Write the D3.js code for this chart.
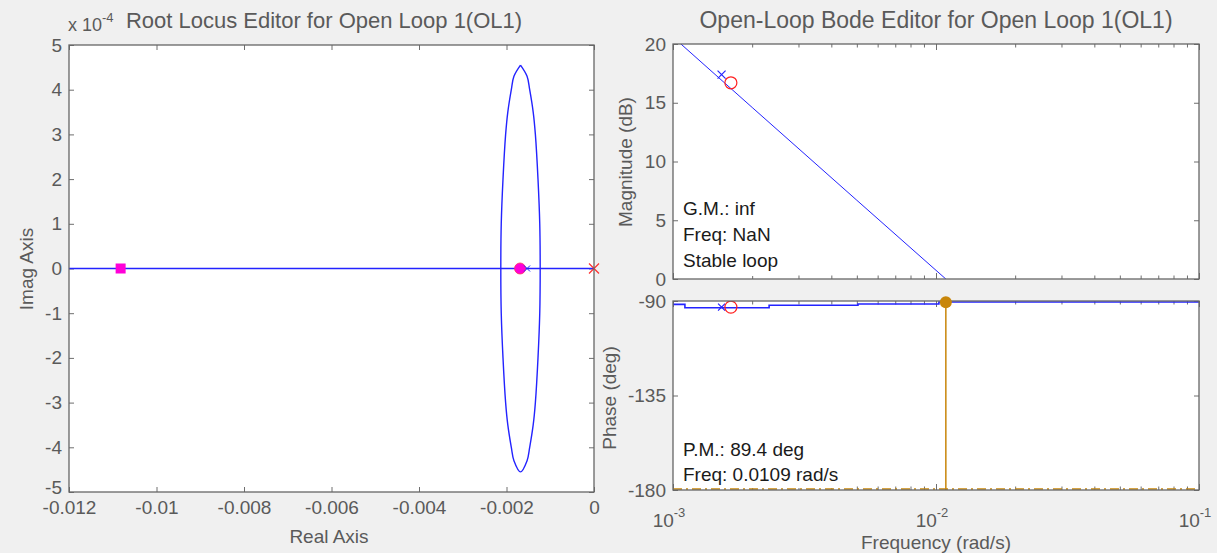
<!DOCTYPE html>
<html>
<head>
<meta charset="utf-8">
<script src="https://cdn.jsdelivr.net/npm/d3@7"></script>
<style>
  body { margin: 0; background: #f0f0f0; }
  svg { display: block; font-family: "Liberation Sans", Arial, sans-serif; }
  .tick text { fill: #5a5a5a; font-size: 19px; }
  .tick line { stroke: #6e6e6e; }
  .domain { display: none; }
</style>
</head>
<body>
<div id="chart"></div>
<script>
// ---- root locus data (imag values in units of 1e-4) ----
const rlXTicks = [-0.012, -0.01, -0.008, -0.006, -0.004, -0.002, 0];
const rlXLabels = ["-0.012", "-0.01", "-0.008", "-0.006", "-0.004", "-0.002", "0"];
const rlYTicks = [-5, -4, -3, -2, -1, 0, 1, 2, 3, 4, 5];
const realAxisLocus = [-0.012, 0];
const locusReal = [-0.00168, -0.00153, -0.00147, -0.00139, -0.00134, -0.00128, -0.00124, -0.00123,
                   -0.00124, -0.00128, -0.00134, -0.00139, -0.00147, -0.00153, -0.00168,
                   -0.00183, -0.00189, -0.00197, -0.00202, -0.00208, -0.00212, -0.00213,
                   -0.00212, -0.00208, -0.00202, -0.00197, -0.00189, -0.00183, -0.00168];
const locusImag = [4.55, 4.3, 4.0, 3.5, 3.0, 2.0, 1.0, 0,
                   -1.0, -2.0, -3.0, -3.5, -4.0, -4.3, -4.55,
                   -4.3, -4.0, -3.5, -3.0, -2.0, -1.0, 0,
                   1.0, 2.0, 3.0, 3.5, 4.0, 4.3, 4.55];
const olPoleReal = [0];
const olZeroSquareReal = [-0.01082];
const clPoleReal = [-0.00169];
const blueCrossReal = [-0.00153];

// ---- bode data ----
const freqTicks = [1e-3, 1e-2, 1e-1];
const freqTickExp = ["-3", "-2", "-1"];
const magTicks = [0, 5, 10, 15, 20];
const phaseTicks = [-180, -135, -90];
const magFreq = [0.001, 0.002, 0.005, 0.0109, 0.02, 0.1];
const magDb = [20.6, 14.6, 6.7, 0, -5.3, -19.2];
const phaseFreq = [0.001, 0.00111, 0.00111, 0.00232, 0.00232, 0.00505, 0.00505, 0.01026, 0.01026, 0.1];
const phaseDeg = [-91.6, -91.6, -93.2, -93.2, -92.0, -92.0, -91.4, -91.4, -90.5, -90.5];
const magCross = {f: 0.00153, v: 17.4};
const magCircle = {f: 0.00166, v: 16.7};
const phaseCross = {f: 0.00153, v: -92.9};
const phaseCircle = {f: 0.00166, v: -92.9};
const pmFreq = 0.0109, pmPhase = -90.6;
const gmText = ["G.M.: inf", "Freq: NaN", "Stable loop"];
const pmText = ["P.M.: 89.4 deg", "Freq: 0.0109 rad/s"];

const W = 1217, H = 553;
const grey = "#666666", txt = "#5a5a5a", orange = "#c8860a", blue = "#2323ff";

let svg = d3.select("#chart").append("svg")
    .attr("width", W).attr("height", H);

svg.append("rect").attr("width", W).attr("height", H).attr("fill", "#f0f0f0");
let defs = svg.append("defs");

// ================= Root locus =================
let rl = {left: 69, right: 594, top: 45, bottom: 492};
let x = d3.scaleLinear().domain([-0.012, 0]).range([rl.left, rl.right]);
let y = d3.scaleLinear().domain([-5, 5]).range([rl.bottom, rl.top]);

svg.append("rect")
    .attr("x", rl.left).attr("y", rl.top)
    .attr("width", rl.right - rl.left).attr("height", rl.bottom - rl.top)
    .attr("fill", "white");

defs.append("clipPath").attr("id", "rlclip")
    .append("rect")
    .attr("x", rl.left).attr("y", rl.top)
    .attr("width", rl.right - rl.left).attr("height", rl.bottom - rl.top);

svg.append("g").attr("transform", "translate(0," + rl.bottom + ")")
    .call(d3.axisBottom(x).tickValues(rlXTicks).tickSize(-5).tickPadding(9)
        .tickFormat((d, i) => rlXLabels[i]));
svg.append("g").attr("transform", "translate(0," + rl.top + ")")
    .call(d3.axisTop(x).tickValues(rlXTicks).tickSize(-5).tickFormat(""));
let yAx = svg.append("g").attr("transform", "translate(" + rl.left + ",0)")
    .call(d3.axisLeft(y).tickValues(rlYTicks).tickSize(-5).tickPadding(7)
        .tickFormat(d => String(d)));
// lift the bottom label a little, like the original
yAx.selectAll(".tick text").filter(d => d === -5).attr("dy", "0.1em");
svg.append("g").attr("transform", "translate(" + rl.right + ",0)")
    .call(d3.axisRight(y).tickValues(rlYTicks).tickSize(-5).tickFormat(""));

let rlg = svg.append("g").attr("clip-path", "url(#rlclip)");

// locus on real axis
rlg.append("line")
    .attr("x1", x(realAxisLocus[0])).attr("x2", x(realAxisLocus[1]))
    .attr("y1", y(0)).attr("y2", y(0))
    .attr("stroke", blue).attr("stroke-width", 1.4);

// complex branch
rlg.append("path")
    .datum(d3.zip(locusReal, locusImag))
    .attr("d", d3.line().curve(d3.curveCatmullRom).x(d => x(d[0])).y(d => y(d[1])))
    .attr("fill", "none").attr("stroke", blue).attr("stroke-width", 1.4);

// magenta square
rlg.selectAll(".sq").data(olZeroSquareReal).enter().append("rect")
    .attr("x", d => x(d) - 5).attr("y", y(0) - 5)
    .attr("width", 10).attr("height", 10).attr("fill", "#ff00d8");

// closed-loop pole
rlg.selectAll(".cl").data(clPoleReal).enter().append("circle")
    .attr("cx", d => x(d)).attr("cy", y(0)).attr("r", 5.5)
    .attr("fill", "#ff00d8").attr("stroke", "#ff3060").attr("stroke-width", 0.8);

// small blue cross
rlg.selectAll(".bx").data(blueCrossReal).enter().append("path")
    .attr("d", d => {
        let cx = x(d), cy = y(0), s = 3;
        return `M${cx - s},${cy - s}L${cx + s},${cy + s}M${cx - s},${cy + s}L${cx + s},${cy - s}`;
    })
    .attr("stroke", blue).attr("stroke-width", 1);

// open-loop pole at origin
svg.selectAll(".op").data(olPoleReal).enter().append("path")
    .attr("d", d => {
        let cx = x(d), cy = y(0), s = 5;
        return `M${cx - s},${cy - s}L${cx + s},${cy + s}M${cx - s},${cy + s}L${cx + s},${cy - s}`;
    })
    .attr("stroke", "#ff3030").attr("stroke-width", 1.2);

svg.append("rect")
    .attr("x", rl.left).attr("y", rl.top)
    .attr("width", rl.right - rl.left).attr("height", rl.bottom - rl.top)
    .attr("fill", "none").attr("stroke", grey).attr("stroke-width", 1.3);

// exponent and title
let expo = svg.append("text").attr("x", 68).attr("y", 31)
    .attr("fill", txt).style("font-size", "18px");
expo.append("tspan").text("x 10");
expo.append("tspan").attr("dy", -9).style("font-size", "13px").text("-4");

svg.append("text").attr("x", 324).attr("y", 28).attr("text-anchor", "middle")
    .attr("fill", txt).style("font-size", "22px")
    .text("Root Locus Editor for Open Loop 1(OL1)");

svg.append("text").attr("x", 329).attr("y", 543).attr("text-anchor", "middle")
    .attr("fill", txt).style("font-size", "19px").text("Real Axis");

svg.append("text").attr("transform", "translate(33,269) rotate(-90)")
    .attr("text-anchor", "middle").attr("fill", txt).style("font-size", "19px")
    .text("Imag Axis");

// ================= Bode =================
let bl = 673, br = 1199;
let mag = {top: 44, bottom: 279};
let ph = {top: 301, bottom: 490};
let fx = d3.scaleLog().domain([1e-3, 1e-1]).range([bl, br]);
let my = d3.scaleLinear().domain([0, 20]).range([mag.bottom, mag.top]);
let py = d3.scaleLinear().domain([-180, -90]).range([ph.bottom, ph.top]);

let minor = [];
[1e-3, 1e-2].forEach(dec => { for (let k = 2; k <= 9; k++) minor.push(dec * k); });

function panel(p, yScale, yTicks, id) {
    svg.append("rect").attr("x", bl).attr("y", p.top)
        .attr("width", br - bl).attr("height", p.bottom - p.top).attr("fill", "white");
    defs.append("clipPath").attr("id", id)
        .append("rect").attr("x", bl).attr("y", p.top)
        .attr("width", br - bl).attr("height", p.bottom - p.top);
    svg.append("g").attr("transform", "translate(" + bl + ",0)")
        .call(d3.axisLeft(yScale).tickValues(yTicks).tickSize(-5).tickPadding(7)
            .tickFormat(d => String(d)));
    svg.append("g").attr("transform", "translate(" + br + ",0)")
        .call(d3.axisRight(yScale).tickValues(yTicks).tickSize(-5).tickFormat(""));
    [p.top, p.bottom].forEach((yy, i) => {
        let ax = i === 0 ? d3.axisTop(fx) : d3.axisBottom(fx);
        svg.append("g").attr("transform", "translate(0," + yy + ")")
            .call(ax.tickValues(freqTicks).tickSize(-6).tickFormat(""));
        svg.append("g").attr("transform", "translate(0," + yy + ")")
            .call(ax.tickValues(minor).tickSize(-3.5).tickFormat(""));
    });
}

panel(mag, my, magTicks, "magclip");
panel(ph, py, phaseTicks, "phclip");

let mg = svg.append("g").attr("clip-path", "url(#magclip)");
mg.append("path")
    .datum(d3.zip(magFreq, magDb))
    .attr("d", d3.line().x(d => fx(d[0])).y(d => my(d[1])))
    .attr("fill", "none").attr("stroke", blue).attr("stroke-width", 1);

function cross(g, cx, cy, s, col) {
    g.append("path")
        .attr("d", `M${cx - s},${cy - s}L${cx + s},${cy + s}M${cx - s},${cy + s}L${cx + s},${cy - s}`)
        .attr("stroke", col).attr("stroke-width", 1.2);
}
cross(mg, fx(magCross.f), my(magCross.v), 4, blue);
mg.append("circle").attr("cx", fx(magCircle.f)).attr("cy", my(magCircle.v)).attr("r", 6)
    .attr("fill", "none").attr("stroke", "#ff2020").attr("stroke-width", 1.2);

// gain margin text
let gm = svg.append("g");
gm.append("rect").attr("x", 680).attr("y", 192).attr("width", 112).attr("height", 84).attr("fill", "white");
gm.selectAll("text").data(gmText).enter().append("text")
    .attr("x", 683).attr("y", (d, i) => 215 + i * 26)
    .attr("fill", "#1a1a1a").style("font-size", "19px").text(d => d);

let pg = svg.append("g").attr("clip-path", "url(#phclip)");
// -180 reference line
pg.append("line").attr("x1", bl).attr("x2", br).attr("y1", py(-180) - 1).attr("y2", py(-180) - 1)
    .attr("stroke", orange).attr("stroke-width", 1.5).attr("stroke-dasharray", "9,4,2,4");

// pm text
let pmg = svg.append("g");
pmg.append("rect").attr("x", 680).attr("y", 432).attr("width", 168).attr("height", 56).attr("fill", "white");
pmg.selectAll("text").data(pmText).enter().append("text")
    .attr("x", 683).attr("y", (d, i) => 456 + i * 25)
    .attr("fill", "#1a1a1a").style("font-size", "19px").text(d => d);

let pg2 = svg.append("g").attr("clip-path", "url(#phclip)");
pg2.append("line").attr("x1", fx(pmFreq)).attr("x2", fx(pmFreq))
    .attr("y1", py(pmPhase)).attr("y2", py(-180))
    .attr("stroke", orange).attr("stroke-width", 1.5);
pg2.append("path")
    .datum(d3.zip(phaseFreq, phaseDeg))
    .attr("d", d3.line().x(d => fx(d[0])).y(d => py(d[1])))
    .attr("fill", "none").attr("stroke", blue).attr("stroke-width", 1.6);
cross(pg2, fx(phaseCross.f), py(phaseCross.v), 3.5, blue);
pg2.append("circle").attr("cx", fx(phaseCircle.f)).attr("cy", py(phaseCircle.v)).attr("r", 6)
    .attr("fill", "none").attr("stroke", "#ff2020").attr("stroke-width", 1.2);

[mag, ph].forEach(p => {
    svg.append("rect").attr("x", bl).attr("y", p.top)
        .attr("width", br - bl).attr("height", p.bottom - p.top)
        .attr("fill", "none").attr("stroke", grey).attr("stroke-width", 1.3);
});

svg.append("circle").attr("cx", fx(pmFreq)).attr("cy", py(pmPhase)).attr("r", 6)
    .attr("fill", orange);

// frequency tick labels 10^n
freqTicks.forEach((f, i) => {
    let t = svg.append("text").attr("x", fx(f) - 4).attr("y", 527)
        .attr("text-anchor", "middle").attr("fill", txt).style("font-size", "19px");
    t.append("tspan").text("10");
    t.append("tspan").attr("dy", -10).style("font-size", "13px").text(freqTickExp[i]);
});

svg.append("text").attr("x", 936).attr("y", 28).attr("text-anchor", "middle")
    .attr("fill", txt).style("font-size", "23px")
    .text("Open-Loop Bode Editor for Open Loop 1(OL1)");

svg.append("text").attr("x", 936).attr("y", 549).attr("text-anchor", "middle")
    .attr("fill", txt).style("font-size", "19px").text("Frequency (rad/s)");

svg.append("text").attr("transform", "translate(632,162) rotate(-90)")
    .attr("text-anchor", "middle").attr("fill", txt).style("font-size", "19px")
    .text("Magnitude (dB)");
svg.append("text").attr("transform", "translate(616,398) rotate(-90)")
    .attr("text-anchor", "middle").attr("fill", txt).style("font-size", "19px")
    .text("Phase (deg)");
</script>
</body>
</html>
